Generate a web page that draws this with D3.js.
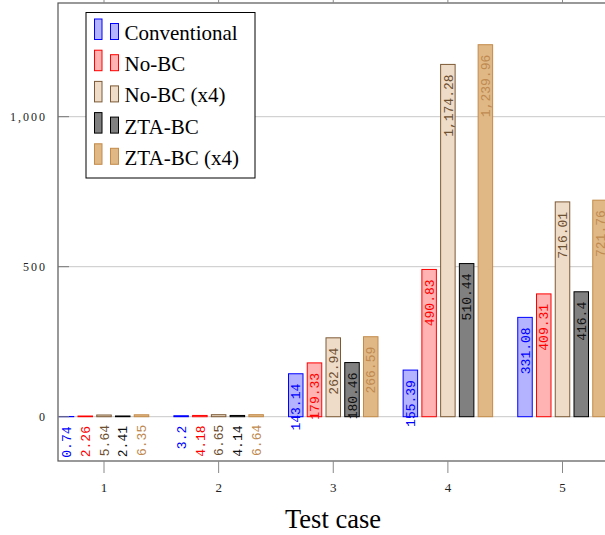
<!DOCTYPE html>
<html>
<head>
<meta charset="utf-8">
<script src="https://cdn.jsdelivr.net/npm/d3@7"></script>
<style>
  body { margin: 0; background: #fff; }
  svg { display: block; }
</style>
</head>
<body>
<svg id="svg1" width="605" height="535"></svg>
<script>
// data
var testCases = [1, 2, 3, 4, 5];
var seriesNames = ['Conventional', 'No-BC', 'No-BC (x4)', 'ZTA-BC', 'ZTA-BC (x4)'];
var conventional = [0.74, 3.2, 143.14, 155.39, 331.08];
var noBC = [2.26, 4.18, 179.33, 490.83, 409.31];
var noBC4 = [5.64, 6.65, 262.94, 1174.28, 716.01];
var ztaBC = [2.41, 4.14, 180.46, 510.44, 416.4];
var ztaBC4 = [6.35, 6.64, 266.59, 1239.96, 721.76];
var yTicks = [0, 500, 1000];

var allSeries = [conventional, noBC, noBC4, ztaBC, ztaBC4];
var fills = ['#b3b3ff', '#ffb3b3', '#eedcc8', '#808080', '#dfb886'];
var strokes = ['#0000ff', '#ff0000', '#7d5a36', '#000000', '#c48a48'];
var labelColors = ['#0000ff', '#ff0000', '#6e5032', '#111111', '#c08a50'];

var frameLeft = 58, frameTop = 3, frameBottom = 461, frameRight = 608;

var svg = d3.select('#svg1');

var scaleX = d3.scaleLinear().domain([1, 5]).range([104, 562.5]);
var scaleY = d3.scaleLinear().domain([0, 1000]).range([416.7, 116.7]);
var offset = d3.scalePoint().domain(d3.range(seriesNames.length)).range([-37.5, 37.5]);
var barW = 14.5;

// grid lines
svg.append('g').selectAll('line')
    .data(yTicks).enter().append('line')
    .attr('x1', frameLeft).attr('x2', frameRight)
    .attr('y1', function(d){ return scaleY(d); })
    .attr('y2', function(d){ return scaleY(d); })
    .attr('stroke', '#c8c8c8').attr('stroke-width', 1);

// bars
allSeries.forEach(function(vals, s){
    var g = svg.append('g');
    g.selectAll('rect')
        .data(vals).enter().append('rect')
        .attr('x', function(d, i){ return scaleX(testCases[i]) + offset(s) - barW / 2; })
        .attr('y', function(d){ return scaleY(d); })
        .attr('width', barW)
        .attr('height', function(d){ return Math.max(0.01, scaleY(0) - scaleY(d)); })
        .attr('fill', fills[s])
        .attr('stroke', strokes[s])
        .attr('stroke-width', 1);
});

// value labels (rotated)
allSeries.forEach(function(vals, s){
    svg.append('g').selectAll('text')
        .data(vals).enter().append('text')
        .attr('transform', function(d, i){
            return 'translate(' + (scaleX(testCases[i]) + offset(s)) + ',' + (scaleY(d) + 10) + ') rotate(-90)';
        })
        .attr('text-anchor', 'end')
        .attr('dy', '0.36em')
        .attr('font-family', '"Liberation Mono", monospace')
        .attr('font-size', 13)
        .attr('fill', labelColors[s])
        .text(function(d){ return d3.format(',')(d); });
});

// frame
svg.append('rect')
    .attr('x', frameLeft).attr('y', frameTop)
    .attr('width', frameRight - frameLeft).attr('height', frameBottom - frameTop)
    .attr('fill', 'none').attr('stroke', '#555').attr('stroke-width', 1.2);

// y ticks (inward) and labels
svg.append('g').selectAll('line')
    .data(yTicks).enter().append('line')
    .attr('x1', frameLeft).attr('x2', frameLeft + 11)
    .attr('y1', function(d){ return scaleY(d); })
    .attr('y2', function(d){ return scaleY(d); })
    .attr('stroke', '#777').attr('stroke-width', 1);

svg.append('g').selectAll('text')
    .data(yTicks).enter().append('text')
    .attr('x', 47)
    .attr('y', function(d){ return scaleY(d); })
    .attr('dy', '0.35em')
    .attr('text-anchor', 'end')
    .attr('font-family', '"Liberation Serif", serif')
    .attr('font-size', 12)
    .attr('letter-spacing', 2)
    .attr('fill', '#222')
    .text(function(d){ return d3.format(',')(d); });

// x ticks (outward, top and bottom) and labels
svg.append('g').selectAll('line')
    .data(testCases).enter().append('line')
    .attr('x1', function(d){ return scaleX(d); })
    .attr('x2', function(d){ return scaleX(d); })
    .attr('y1', frameBottom).attr('y2', frameBottom + 12)
    .attr('stroke', '#888').attr('stroke-width', 1);

svg.append('g').selectAll('line')
    .data(testCases).enter().append('line')
    .attr('x1', function(d){ return scaleX(d); })
    .attr('x2', function(d){ return scaleX(d); })
    .attr('y1', frameTop).attr('y2', frameTop - 12)
    .attr('stroke', '#888').attr('stroke-width', 1);

svg.append('g').selectAll('text')
    .data(testCases).enter().append('text')
    .attr('x', function(d){ return scaleX(d); })
    .attr('y', 487)
    .attr('dy', '0.35em')
    .attr('text-anchor', 'middle')
    .attr('font-family', '"Liberation Serif", serif')
    .attr('font-size', 13)
    .attr('fill', '#222')
    .text(function(d){ return d; });

// axis title
svg.append('text')
    .attr('x', 333).attr('y', 528)
    .attr('text-anchor', 'middle')
    .attr('font-family', '"Liberation Serif", serif')
    .attr('font-size', 26.5)
    .attr('fill', '#000')
    .text('Test case');

// legend
var legend = svg.append('g');
legend.append('rect')
    .attr('x', 86).attr('y', 12.5).attr('width', 169).attr('height', 165.5)
    .attr('fill', '#fff').attr('stroke', '#000').attr('stroke-width', 1);

seriesNames.forEach(function(name, s){
    var base = 40 + s * 31.2;
    legend.append('rect')
        .attr('x', 94.5).attr('y', base - 21).attr('width', 7.5).attr('height', 20.5)
        .attr('fill', fills[s]).attr('stroke', strokes[s]).attr('stroke-width', 1);
    legend.append('rect')
        .attr('x', 110.5).attr('y', base - 16.5).attr('width', 8).attr('height', 16)
        .attr('fill', fills[s]).attr('stroke', strokes[s]).attr('stroke-width', 1);
    legend.append('text')
        .attr('x', 124.5).attr('y', base)
        .attr('font-family', '"Liberation Serif", serif')
        .attr('font-size', 21)
        .attr('fill', '#000')
        .text(name);
});
</script>
</body>
</html>
